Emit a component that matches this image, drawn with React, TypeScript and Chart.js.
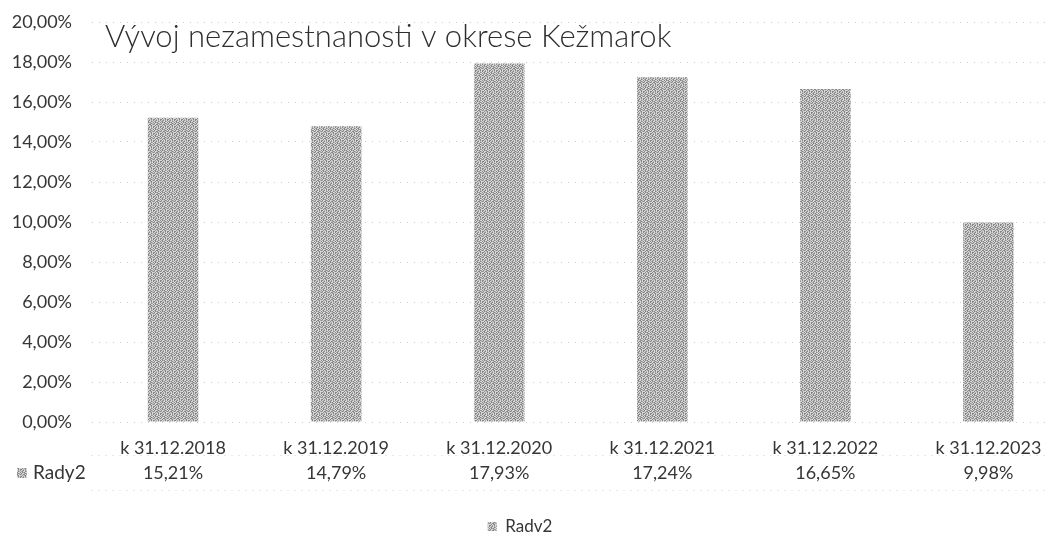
import React, { useEffect, useRef } from "react";
import { Chart, registerables } from "chart.js";

Chart.register(...registerables);

const TITLE = "Vývoj nezamestnanosti v okrese Kežmarok";
const SERIES_NAME = "Rady2";
const LEGEND_NAME = "Radv2";
const categories = [
  "k 31.12.2018",
  "k 31.12.2019",
  "k 31.12.2020",
  "k 31.12.2021",
  "k 31.12.2022",
  "k 31.12.2023",
];
const values = [0.1521, 0.1479, 0.1793, 0.1724, 0.1665, 0.0998];
const yMin = 0;
const yMax = 0.2;
const yStep = 0.02;

const FONT = "Lato, 'Open Sans', sans-serif";
const TEXT = "#363636";

const fmt = (v: number) => (v * 100).toFixed(2).replace(".", ",") + "%";

// irregular dither texture (d = dark, m = mid, l = light)
const TEXTURE = [
  "dlmldld",
  "lmdlmld",
  "mdlldml",
  "ldmdlld",
  "dllmdml",
  "mlddlmd",
  "ldlmdll",
];

function makePattern(): CanvasPattern | string {
  const n = TEXTURE.length;
  const c = document.createElement("canvas");
  c.width = n;
  c.height = n;
  const g = c.getContext("2d");
  if (!g) return "#ababab";
  const col: Record<string, string> = { d: "#858585", m: "#ababab", l: "#d8d8d8" };
  for (let y = 0; y < n; y++)
    for (let x = 0; x < n; x++) {
      g.fillStyle = col[TEXTURE[y][x]];
      g.fillRect(x, y, 1, 1);
    }
  const p = g.createPattern(c, "repeat");
  return p || "#ababab";
}

export default function App() {
  const ref = useRef<HTMLCanvasElement | null>(null);

  useEffect(() => {
    if (!ref.current) return;
    const fill = makePattern();

    const tablePlugin = {
      id: "dataTableAndTitle",
      afterLayout(chart: any) {
        if (chart.legend) chart.legend.right -= 30;
      },
      afterDraw(chart: any) {
        const ctx = chart.ctx as CanvasRenderingContext2D;
        const xs = chart.scales.x;
        const area = chart.chartArea;
        ctx.save();
        // table lines
        ctx.strokeStyle = "rgba(0,0,0,0.18)";
        ctx.lineWidth = 1;
        ctx.setLineDash([1, 6]);
        [455.5, 490.5].forEach((y) => {
          ctx.beginPath();
          ctx.moveTo(area.left, y);
          ctx.lineTo(area.right, y);
          ctx.stroke();
        });
        ctx.setLineDash([]);
        // series row
        ctx.fillStyle = TEXT;
        ctx.font = `18px ${FONT}`;
        ctx.textBaseline = "middle";
        ctx.textAlign = "center";
        values.forEach((v, i) => {
          ctx.fillText(fmt(v), xs.getPixelForValue(i), 473);
        });
        ctx.fillStyle = fill as any;
        ctx.fillRect(17, 468, 10, 10);
        ctx.fillStyle = TEXT;
        ctx.textAlign = "left";
        ctx.font = `19px ${FONT}`;
        ctx.fillText(SERIES_NAME, 33, 473);
        // title
        ctx.font = `300 31px ${FONT}`;
        ctx.fillStyle = "#2e2e2e";
        ctx.textAlign = "left";
        ctx.fillText(TITLE, 105, 37);
        ctx.restore();
      },
    };

    const chart = new Chart(ref.current, {
      type: "bar",
      data: {
        labels: categories,
        datasets: [
          {
            label: LEGEND_NAME,
            data: values,
            backgroundColor: fill as any,
            borderWidth: 0,
            barPercentage: 0.31,
            categoryPercentage: 1,
          },
        ],
      },
      options: {
        responsive: false,
        animation: false,
        devicePixelRatio: 1,
        layout: { padding: { top: 22, left: 0, right: 0, bottom: 0 } },
        plugins: {
          title: { display: false },
          tooltip: { enabled: false },
          legend: {
            display: true,
            position: "bottom",
            labels: {
              boxWidth: 9,
              boxHeight: 9,
              padding: 4,
              color: TEXT,
              font: { family: FONT, size: 17 },
            },
          },
        },
        scales: {
          x: {
            grid: { display: false },
            border: { display: false },
            ticks: {
              color: TEXT,
              font: { family: FONT, size: 18 },
              padding: 7,
              maxRotation: 0,
              autoSkip: false,
            },
            afterFit(scale: any) {
              scale.height = 92;
            },
          },
          y: {
            min: yMin,
            max: yMax,
            border: { display: false, dash: [1, 6] },
            grid: {
              color: "rgba(0,0,0,0.2)",
              lineWidth: 1,
              drawTicks: true,
              tickLength: 19.5,
              tickColor: "rgba(0,0,0,0)",
            },
            ticks: {
              stepSize: yStep,
              color: TEXT,
              font: { family: FONT, size: 18 },
              padding: 0,
              callback: (v: any) => fmt(Number(v)),
            },
            afterFit(scale: any) {
              scale.width = 91.5;
            },
          },
        },
      } as any,
      plugins: [tablePlugin],
    });

    return () => chart.destroy();
  }, []);

  return (
    <div
      style={{
        position: "absolute",
        left: 0,
        top: 0,
        width: 1050,
        height: 534,
        overflow: "hidden",
        background: "#fff",
      }}
    >
      <canvas ref={ref} width={1070} height={545} style={{ width: 1070, height: 545 }} />
    </div>
  );
}
